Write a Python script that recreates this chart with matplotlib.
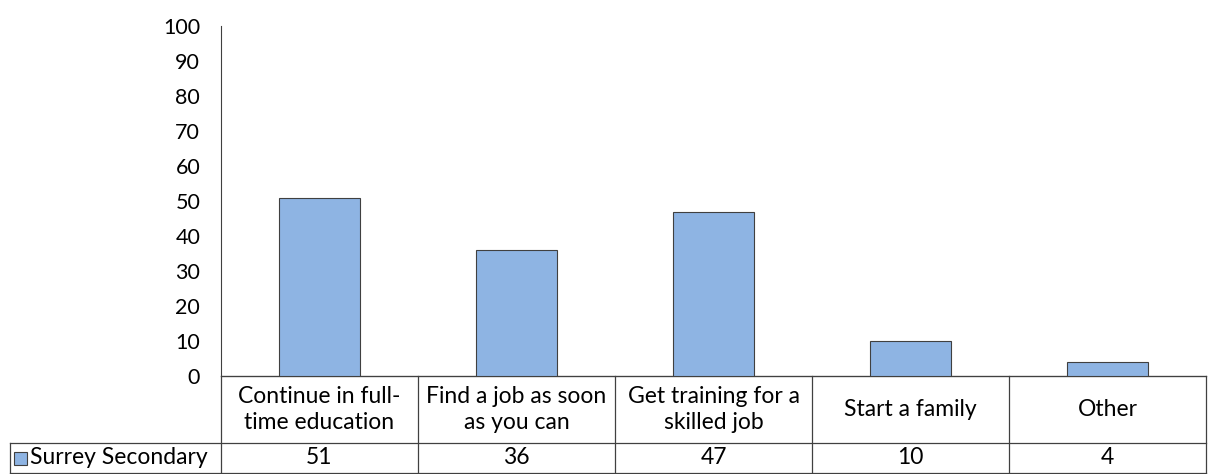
import matplotlib.pyplot as plt
import matplotlib.transforms as mtransforms
from matplotlib.patches import Rectangle
import numpy as np

plt.rcParams['font.family'] = ['Lato', 'DejaVu Sans']

categories = ['Continue in full-\ntime education', 'Find a job as soon\nas you can',
              'Get training for a\nskilled job', 'Start a family', 'Other']
values = [51, 36, 47, 10, 4]
series_name = 'Surrey Secondary'
bar_color = '#8EB4E3'

fig = plt.figure(figsize=(12.08, 4.74), dpi=100)
ax = fig.add_axes([221 / 1208, 1 - 376 / 474, 985 / 1208, 350 / 474])

x = np.arange(len(categories))
ax.bar(x, values, width=0.41, color=bar_color, edgecolor='#404040', linewidth=0.8, zorder=3)
ax.set_xlim(-0.5, len(categories) - 0.5)
ax.set_ylim(0, 100)
ax.set_yticks(np.arange(0, 101, 10))
ax.tick_params(axis='y', length=0, labelsize=15.5, pad=15)
ax.set_xticks([])
for s in ['top', 'right']:
    ax.spines[s].set_visible(False)
ax.spines['left'].set_color('#404040')
ax.spines['bottom'].set_color('#404040')

# data table below the axis
tr = mtransforms.blended_transform_factory(ax.transData, ax.transAxes)
row1 = -67 / 350
row2 = -97 / 350
lc = '#404040'
fs = 16.5
for b in np.arange(-0.5, len(categories), 1.0):
    ax.plot([b, b], [0, row2], transform=tr, color=lc, lw=0.9, clip_on=False)
ax.plot([-0.5, len(categories) - 0.5], [0, 0], transform=tr, color=lc, lw=0.9, clip_on=False)

left_frac = (10 - 221) / 985
ax.plot([left_frac, 1], [row1, row1], transform=ax.transAxes, color=lc, lw=0.9, clip_on=False)
ax.plot([left_frac, 1], [row2, row2], transform=ax.transAxes, color=lc, lw=0.9, clip_on=False)
ax.plot([left_frac, left_frac], [row1, row2], transform=ax.transAxes, color=lc, lw=0.9, clip_on=False)

for i, (c, v) in enumerate(zip(categories, values)):
    ax.text(i, row1 / 2, c, transform=tr, ha='center', va='center', fontsize=fs,
            linespacing=1.25, clip_on=False)
    ax.text(i, (row1 + row2) / 2, str(v), transform=tr, ha='center', va='center',
            fontsize=fs, clip_on=False)

# legend key in the table
key_x = (14 - 221) / 985
key_w = 13 / 985
key_h = 13 / 350
ax.add_patch(Rectangle((key_x, (row1 + row2) / 2 - key_h / 2), key_w, key_h,
                       transform=ax.transAxes, facecolor=bar_color, edgecolor='#404040',
                       lw=0.8, clip_on=False))
ax.text((30 - 221) / 985, (row1 + row2) / 2, series_name, transform=ax.transAxes,
        ha='left', va='center', fontsize=fs, clip_on=False)

plt.savefig('out.png', dpi=100)
